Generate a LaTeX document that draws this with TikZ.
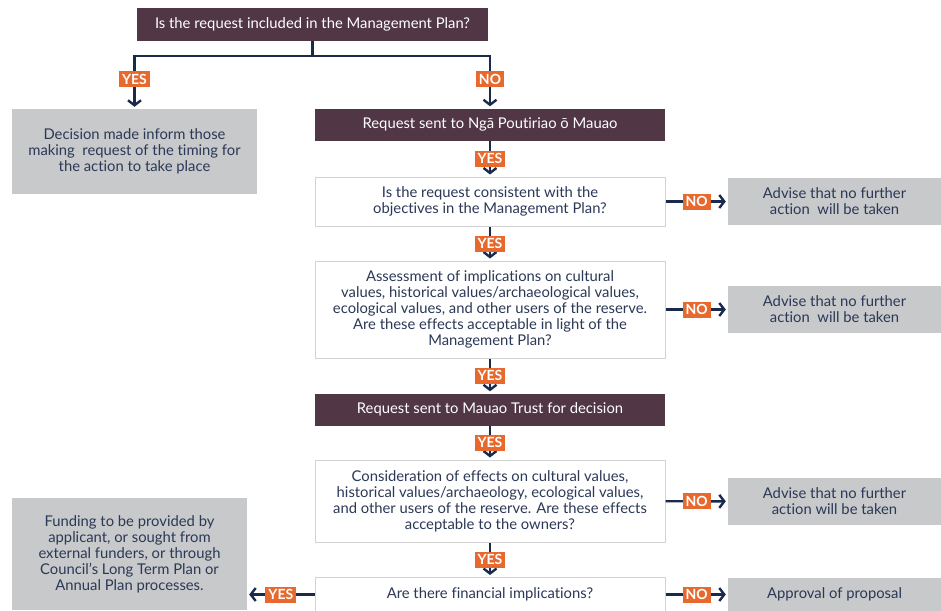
\documentclass[tikz,border=0pt]{standalone}
\usepackage{fontspec}
\setmainfont{Lato}[Ligatures=NoCommon]
\usepackage{tikz}
\usetikzlibrary{arrows.meta}
\definecolor{plum}{HTML}{513645}
\definecolor{tagorange}{HTML}{E8692D}
\definecolor{navy}{HTML}{1A2A4C}
\definecolor{inktext}{HTML}{2B3856}
\definecolor{greyfill}{HTML}{C8C9CB}
\definecolor{edgegrey}{HTML}{D3D3D3}
\tikzset{>={Straight Barb[length=5pt,width=13pt]}}
\tikzset{
  boxfont/.style={font=\fontsize{14.8}{16}\selectfont},
  plumbox/.style={fill=plum, text=white, minimum width=350pt, minimum height=32pt, inner sep=0pt, align=center, boxfont},
  qbox/.style={draw=edgegrey, line width=1pt, fill=white, text=inktext, minimum width=350pt, inner sep=0pt, align=center, boxfont},
  greybox/.style={fill=greyfill, text=inktext, inner sep=0pt, align=center, boxfont},
  tag/.style={fill=tagorange, text=white, font=\bfseries\fontsize{14}{14}\selectfont, inner xsep=3pt, inner ysep=1.5pt, minimum height=16pt},
  flow/.style={draw=navy, line width=2.4pt, ->, shorten >=2pt},
}

\begin{document}
\begin{tikzpicture}[x=1pt,y=-1pt]
    \clip (0,0) rectangle (941,610);
    % main column
    \node[plumbox, minimum width=351pt, minimum height=33pt] (incl) at (312.5,24.5) {Is the request included in the Management Plan?};
    \node[plumbox] (nga) at (490,124.5) {Request sent to Ngā Poutiriao ō Mauao};
    \node[qbox, minimum height=49pt] (consist) at (490,201.5) {Is the request consistent with the\\objectives in the Management Plan?};
    \node[qbox, minimum height=97pt] (assess) at (490,309.5) {Assessment of implications on cultural\\values, historical values/archaeological values,\\ecological values, and other users of the reserve.\\Are these effects acceptable in light of the\\Management Plan?};
    \node[plumbox] (trust) at (490,409.5) {Request sent to Mauao Trust for decision};
    \node[qbox, minimum height=82pt] (owners) at (490,501) {Consideration of effects on cultural values,\\historical values/archaeology, ecological values,\\and other users of the reserve. Are these effects\\acceptable to the owners?};
    \node[qbox, minimum height=34pt] (finance) at (490,594.5) {Are there financial implications?};
    % outcomes
    \node[greybox, minimum width=245pt, minimum height=85pt] (inform) at (134.5,151.5) {Decision made inform those\\making~~request of the timing for\\the action to take place};
    \node[greybox, minimum width=213pt, minimum height=47pt] (stop1) at (834.5,201.5) {Advise that no further\\action~~will be taken};
    \node[greybox, minimum width=213pt, minimum height=47pt] (stop2) at (834.5,309.5) {Advise that no further\\action~~will be taken};
    \node[greybox, minimum width=213pt, minimum height=47pt] (stop3) at (834.5,501.5) {Advise that no further\\action will be taken};
    \node[greybox, minimum width=213pt, minimum height=34pt] (approve) at (834.5,594.5) {Approval of proposal};
    \node[greybox, minimum width=235pt, minimum height=112pt] (funding) at (129.5,554) {Funding to be provided by\\applicant, or sought from\\external funders, or through\\Council’s Long Term Plan or\\Annual Plan processes.};
    % connectors
    \draw[flow] (incl.south) -- ++(0,15) -| node[tag,pos=0.72]{YES} (inform.north);
    \draw[flow] (incl.south) -- ++(0,15) -| node[tag,pos=0.72]{NO} (nga.north);
    \draw[flow] (nga) -- node[tag]{YES} (consist);
    \draw[flow] (consist) -- node[tag]{YES} (assess);
    \draw[flow] (assess) -- node[tag]{YES} (trust);
    \draw[flow] (trust) -- node[tag]{YES} (owners);
    \draw[flow] (owners) -- node[tag]{YES} (finance);
    \draw[flow] (consist) -- node[tag]{NO} (stop1);
    \draw[flow] (assess) -- node[tag]{NO} (stop2);
    \draw[flow] (owners) -- node[tag]{NO} (stop3);
    \draw[flow] (finance) -- node[tag]{NO} (approve);
    \draw[flow] (finance.west) -- node[tag]{YES} (funding.east |- finance.west);
\end{tikzpicture}
\end{document}
